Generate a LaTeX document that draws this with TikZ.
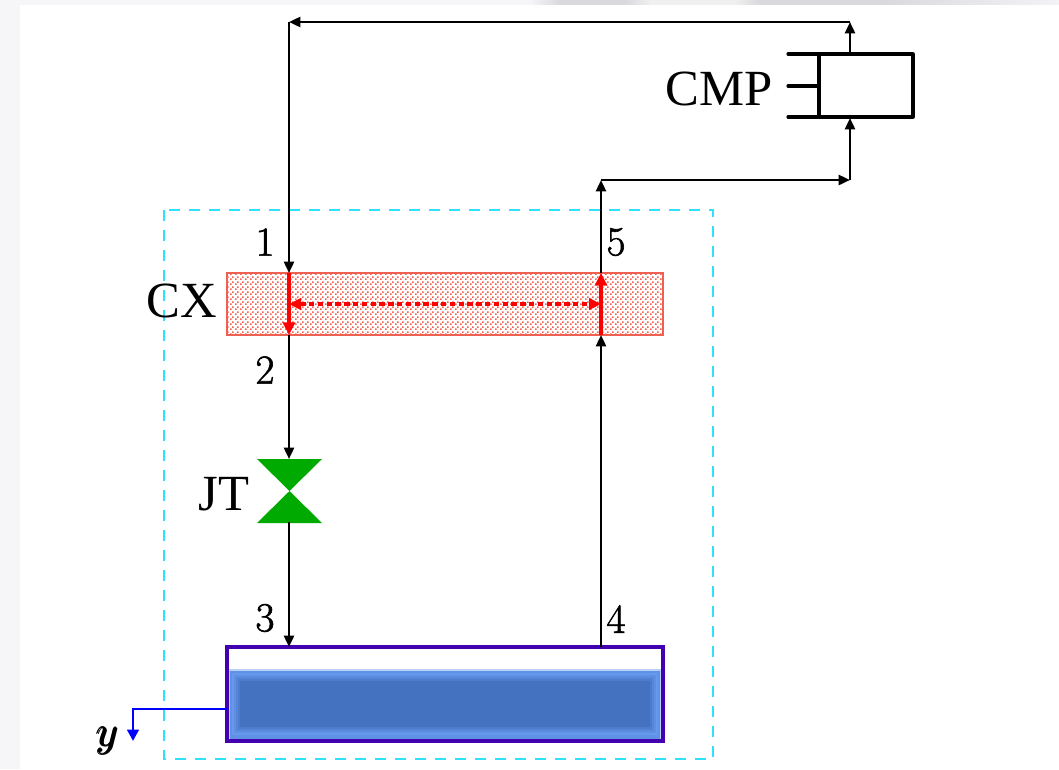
\documentclass[tikz,border=0pt]{standalone}
\usepackage{amsmath}
\usepackage{fontspec}
\usetikzlibrary{arrows.meta,patterns}
\newfontfamily\labelfont{Liberation Serif}
\newcommand{\heavytext}[1]{\special{pdf:code 2 Tr 0.45 w}#1\special{pdf:code 0 Tr}}
\definecolor{pagegrey}{HTML}{F6F6F9}
\definecolor{topgrey}{HTML}{D9D9DD}
\definecolor{toplight}{HTML}{F0F0F0}
\definecolor{guide}{HTML}{30E0FF}
\definecolor{cxedge}{HTML}{F06050}
\definecolor{cxdot}{HTML}{F4604E}
\definecolor{tankedge}{HTML}{4200B0}
\definecolor{liquid}{HTML}{4472C0}
\definecolor{liquidlight}{HTML}{6699EE}
\definecolor{valve}{HTML}{00AA00}
\pgfdeclarepatternformonly{cxdots}{\pgfpointorigin}{\pgfqpoint{3.75pt}{3.75pt}}{\pgfqpoint{3.75pt}{3.75pt}}{%
  \pgfpathrectangle{\pgfqpoint{0pt}{0pt}}{\pgfqpoint{1.35pt}{1.35pt}}%
  \pgfpathrectangle{\pgfqpoint{1.875pt}{1.875pt}}{\pgfqpoint{1.35pt}{1.35pt}}%
  \pgfusepath{fill}}
\tikzset{
  x=0.75pt,y=-0.75pt,
  flow/.style={line width=1.8pt,-{Triangle[length=8.5pt,width=7.5pt]}},
  hot/.style={line width=2.6pt,red,-{Triangle[length=9.5pt,width=9pt]}},
  cmpline/.style={line width=2.4pt,line cap=round,line join=round},
  big/.style={font=\labelfont\fontsize{38}{38}\selectfont,inner sep=0pt},
  num/.style={font=\fontsize{31}{31}\selectfont,inner sep=0pt},
  symb/.style={font=\fontsize{24.88}{24.88}\selectfont,inner sep=0pt,scale=1.3},
  valvepart/.style={fill=valve,draw=none},
}
\begin{document}
\begin{tikzpicture}
\useasboundingbox (0,0) rectangle (1059,769);
\fill[pagegrey] (0,0) rectangle (1059,769);
\shade[left color=pagegrey,right color=topgrey] (530,0) rectangle (560,5);
\fill[topgrey] (560,0) rectangle (625,5);
\shade[left color=topgrey,right color=toplight] (625,0) rectangle (650,5);
\fill[toplight] (650,0) rectangle (735,5);
\shade[left color=toplight,right color=topgrey] (735,0) rectangle (760,5);
\fill[topgrey] (760,0) rectangle (880,5);
\shade[left color=topgrey,right color=pagegrey!90!topgrey] (880,0) rectangle (1059,5);
\fill[white] (20,5) rectangle (1059,769);

\draw[guide,line width=1.3pt,dash pattern=on 8pt off 7pt] (164,210) rectangle (713,759);

\fill[white] (227,273) rectangle (663,335);
\fill[pattern=cxdots,pattern color=cxdot] (227,273) rectangle (663,335);
\draw[cxedge,line width=1.1pt] (227,273) rectangle (663,335);
\coordinate (cxtl) at (289,273);
\coordinate (cxbl) at (289,335);
\coordinate (cxtr) at (601,273);
\coordinate (cxbr) at (601,335);
\coordinate (ex1) at (289,304);
\coordinate (ex2) at (601,304);

\fill[liquidlight!45!white] (228,669) rectangle (662,740);
\fill[liquidlight!80!liquid] (230,671) rectangle (660,740);
\fill[liquidlight] (232,673) rectangle (658,735);
\fill[liquidlight!75!liquid] (234,675) rectangle (656,733);
\fill[liquidlight!50!liquid] (236,677) rectangle (654,731);
\fill[liquidlight!25!liquid] (238,679) rectangle (652,729);
\fill[liquid] (240,681) rectangle (650,727);
\draw[tankedge,line width=2.4pt] (227,647) rectangle (663,741);
\coordinate (tankin) at (289,647);
\coordinate (tankout) at (601,647);
\coordinate (tankdrain) at (227,709);
\coordinate (drainbend) at (133,709);
\coordinate (drainend) at (133,741);

\fill[valvepart] (257,459) -- (322,459) -- (289.5,491) -- cycle;
\fill[valvepart] (257,523) -- (322,523) -- (289.5,491) -- cycle;
\coordinate (jtin) at (289,459);
\coordinate (jtout) at (289,522);

\draw[cmpline] (788,54) -- (913,54) -- (913,117) -- (788,117);
\draw[cmpline] (819,54) -- (819,117);
\draw[cmpline] (788,86) -- (819,86);
\coordinate (cmpout) at (850,53);
\coordinate (cmpin) at (850,118);
\coordinate (topright) at (850,22);
\coordinate (topleft) at (289,22);
\coordinate (midleft) at (601,180);
\coordinate (midright) at (850,180);

\draw[flow] (cmpout) -- (topright);
\draw[flow] (topright) -- (topleft);
\draw[flow] (topleft) -- (cxtl);
\draw[flow] (cxbl) -- (jtin);
\draw[flow] (jtout) -- (tankin);
\draw[flow] (tankout) -- (cxbr);
\draw[flow] (cxtr) -- (midleft);
\draw[flow] (midleft) -- (midright);
\draw[flow] (midright) -- (cmpin);
\draw[hot] (cxtl) -- (cxbl);
\draw[hot] (cxbr) -- (cxtr);
\draw[red,line width=2.4pt,dash pattern=on 4pt off 2.6pt,{Triangle[length=9pt,width=8.5pt]}-{Triangle[length=9pt,width=8.5pt]}] (ex1) -- (ex2);
\draw[blue,line width=2.2pt,line join=miter,-{Triangle[length=8.5pt,width=8.5pt]}] (tankdrain) -- (drainbend) -- (drainend);

\node[big] (cx) at (182,301) {CX};
\node[big] (jt) at (224,494) {JT};
\node[big] (cmp) at (719,89) {CMP};
\node[num] (n1) at (265,242) {\heavytext{1}};
\node[num] (n2) at (265,370) {\heavytext{2}};
\node[num] (n3) at (265,618) {\heavytext{3}};
\node[num] (n4) at (616,619) {\heavytext{4}};
\node[num] (n5) at (616,242) {\heavytext{5}};
\node[symb] (ylab) at (108,741) {$\pmb{y}$};
\end{tikzpicture}
\end{document}
